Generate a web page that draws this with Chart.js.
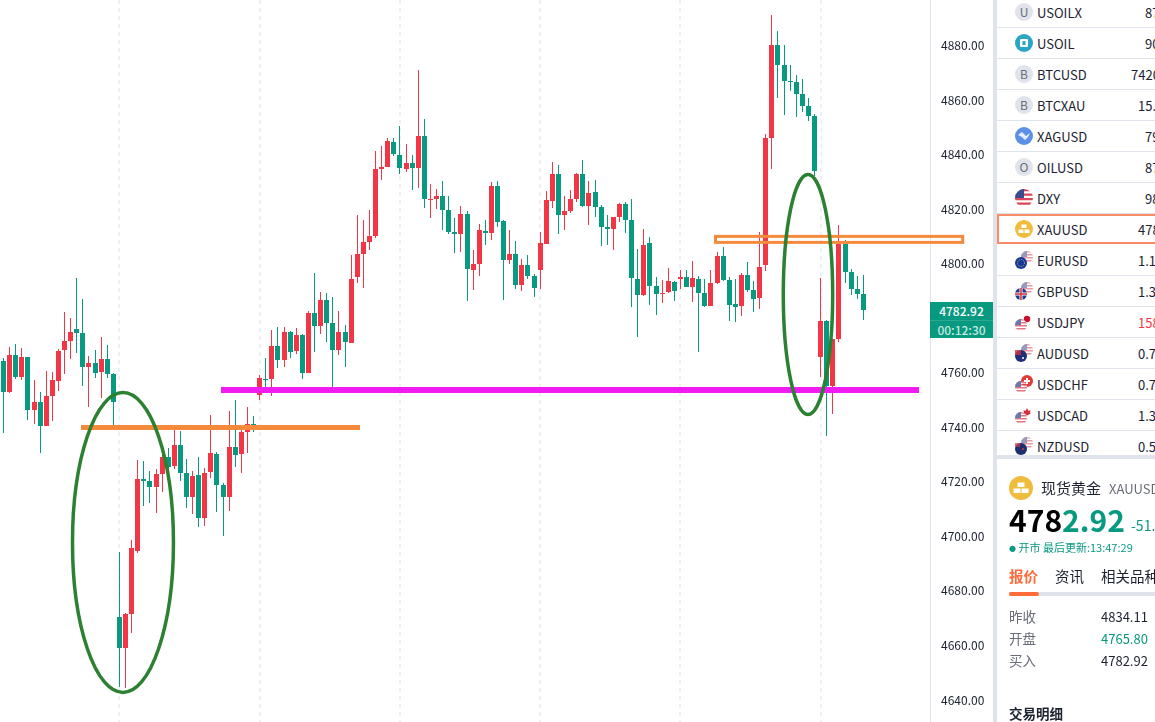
<!DOCTYPE html>
<html lang="zh">
<head>
<meta charset="utf-8">
<title>XAUUSD</title>
<script src="https://cdn.jsdelivr.net/npm/chart.js@4"></script>
<style>
html,body{margin:0;padding:0;background:#fff;width:1155px;height:722px;overflow:hidden;font-family:"Noto Sans CJK SC","Noto Sans",sans-serif;color:#1c2230}
#wrap{position:absolute;left:0;top:0;width:993px;height:722px}
#divider{position:absolute;left:993px;top:0;width:4px;height:722px;background:#E0E3EB}
#lastBox{position:absolute;left:930px;top:302px;width:63px;height:36px;background:#089981;color:#fff;text-align:center;font-size:12px;font-weight:500;z-index:3}
#lastBox div{height:18px;line-height:18px}
#lastBox .c{color:#c5e9df;border-top:1px solid #2aa892;height:17px;line-height:17px}
#list{position:absolute;left:997px;top:-3px;width:158px;height:458px;overflow:hidden}
.row{position:absolute;left:0;width:158px;height:31px;border-bottom:1px solid #E0E3EB;box-sizing:border-box;font-size:13px;line-height:31px}
.row.sel{border:2px solid #F98B66;left:0;width:170px;height:30px;}
.row .n{position:absolute;left:40px;top:0}
.row .v{position:absolute;top:0;white-space:nowrap}
.row svg{position:absolute;left:18px;top:6px}
#band{position:absolute;left:997px;top:455px;width:158px;height:4px;background:#E0E3EB}
.t{position:absolute;white-space:nowrap;line-height:1}
#panel{position:absolute;left:0;top:0;width:1155px;height:722px;overflow:hidden;pointer-events:none}
</style>
</head>
<body>
<div id="wrap"><canvas id="c" width="993" height="722"></canvas></div>
<div id="divider"></div>
<div id="lastBox"><div>4782.92</div><div class="c">00:12:30</div></div>
<div id="list"></div>
<div id="band"></div>
<div id="panel">
  <svg style="position:absolute;left:1009px;top:476px" width="24" height="24" viewBox="0 0 24 24"><circle cx="12" cy="12" r="12" fill="#F0BC3D"/><rect x="8.5" y="6.5" width="7" height="4.5" fill="#fff"/><rect x="4.5" y="12.5" width="7" height="4.5" fill="#fff"/><rect x="12.5" y="12.5" width="7" height="4.5" fill="#fff"/></svg>
  <div class="t" style="left:1041px;top:480px;font-size:15px;color:#1c2230">现货黄金</div>
  <div class="t" style="left:1109px;top:482px;font-size:13px;color:#6a6d78">XAUUSD</div>
  <div class="t" style="left:1009px;top:504px;font-size:30px;font-weight:700;color:#000">478<span style="color:#089981">2.92</span></div>
  <div class="t" style="left:1131px;top:518px;font-size:14px;color:#089981">-51.</div>
  <div class="t" style="left:1009px;top:542px;font-size:11px;color:#089981"><span style="font-size:7px;vertical-align:1px">●</span> 开市 最后更新:13:47:29</div>
  <div class="t" style="left:1009px;top:569px;font-size:14.5px;font-weight:700;color:#FF6B3B">报价</div>
  <div class="t" style="left:1055px;top:569px;font-size:14.5px;color:#1c2230">资讯</div>
  <div class="t" style="left:1101px;top:569px;font-size:14.5px;color:#1c2230">相关品种</div>
  <div style="position:absolute;left:1009px;top:592px;width:146px;height:4px;background:#E0E3EB"></div>
  <div style="position:absolute;left:1009px;top:592px;width:30px;height:4px;border-radius:2px;background:#FF6B3B"></div>
  <div class="t" style="left:1009px;top:610px;font-size:13.5px;color:#6a6d78">昨收</div>
  <div class="t" style="left:1101px;top:610px;font-size:13px;color:#1c2230">4834.11</div>
  <div class="t" style="left:1009px;top:632px;font-size:13.5px;color:#6a6d78">开盘</div>
  <div class="t" style="left:1101px;top:632px;font-size:13px;color:#089981">4765.80</div>
  <div class="t" style="left:1009px;top:654px;font-size:13.5px;color:#6a6d78">买入</div>
  <div class="t" style="left:1101px;top:654px;font-size:13px;color:#1c2230">4782.92</div>
  <div class="t" style="left:1009px;top:707px;font-size:13.5px;font-weight:700;color:#1c2230">交易明细</div>
</div>
<script>
const opens=[4764.3,4752.9,4766.5,4758.4,4765.8,4746.3,4749.3,4740.5,4751.5,4757.0,4768.3,4771.6,4776.0,4774.6,4762.1,4763.6,4760.3,4765.0,4759.5,
4670.4,4659.1,4671.5,4694.6,4721.0,4720.3,4718.1,4722.9,4729.1,4725.8,4733.5,4723.2,4714.4,4722.5,4706.7,4723.6,4730.2,4718.8,4714.4,4732.8,4730.2,4738.3,4741.2,
4752.0,4757.7,4757.7,4769.8,4764.7,4774.9,4768.0,4773.8,4759.9,4781.9,4777.1,4786.7,4778.2,4768.3,4774.9,4770.9,4795.1,4803.5,4807.9,4810.1,4834.7,4835.4,4844.6,4839.8,4834.7,4836.9,4835.1,4846.8,4823.3,4823.7,4824.8,4819.7,4811.6,4810.9,4818.2,4797.7,4799.9,4812.0,4811.2,4828.5,
4815.6,4801.3,4803.5,4792.2,4799.5,4795.5,4797.7,4807.2,4823.0,4832.9,4817.9,4819.3,4823.7,4832.9,4821.1,4826.3,4820.8,4813.4,4812.7,4817.1,4821.9,4816.0,4794.4,4788.5,4807.6,4791.8,4788.9,4789.6,4793.3,4794.4,4795.1,4791.4,4794.4,4789.2,4784.5,4792.9,4802.8,4794.0,
4785.2,4784.5,4795.8,4790.3,4787.4,4799.5,4846.1,4880.2,4872.8,4867.0,4866.6,4862.2,4857.8,4854.1,4765.8,4779.0,4755.1,4772.4,4807.2,4796.9,4790.7,4788.9];
const highs=[4765.3,4769.4,4770.5,4769.1,4765.8,4757.3,4752.9,4760.6,4760.3,4768.7,4782.3,4780.1,4794.7,4787.0,4766.1,4768.3,4773.1,4770.2,4759.9,
4694.3,4671.9,4698.7,4728.0,4727.6,4724.0,4724.7,4730.6,4732.4,4739.7,4738.6,4728.4,4724.0,4729.1,4725.1,4744.5,4730.9,4719.6,4746.0,4750.0,4740.1,4747.4,4744.1,
4759.2,4765.4,4775.7,4776.8,4776.8,4775.3,4776.4,4774.2,4782.6,4796.6,4789.6,4789.2,4787.8,4782.6,4777.5,4803.2,4817.8,4816.0,4819.7,4841.3,4843.1,4846.1,4846.1,4850.5,4843.9,4839.8,4871.0,4853.1,4829.2,4827.4,4830.3,4824.8,4816.7,4821.1,4819.3,4805.0,4814.5,4816.0,4829.9,4830.3,
4816.0,4812.3,4808.3,4801.7,4803.2,4796.2,4811.6,4826.7,4837.3,4836.2,4824.8,4827.0,4833.2,4838.0,4830.3,4830.7,4821.5,4817.9,4817.1,4822.3,4822.6,4823.7,4805.4,4812.7,4809.8,4795.1,4794.0,4798.4,4793.6,4797.7,4797.7,4801.0,4795.5,4794.4,4797.7,4804.3,4806.1,4795.1,
4794.4,4796.6,4800.6,4793.6,4811.6,4847.5,4891.2,4885.3,4880.2,4872.8,4869.2,4867.7,4860.7,4854.9,4794.7,4779.3,4772.4,4814.2,4808.7,4798.0,4795.5,4795.8];
const lows=[4738.0,4752.6,4757.7,4757.3,4742.7,4741.2,4730.6,4740.5,4742.3,4753.3,4759.5,4765.0,4767.2,4755.1,4747.4,4758.1,4750.7,4758.1,4740.8,
4644.8,4644.4,4664.6,4693.9,4711.1,4712.2,4708.6,4716.3,4724.3,4724.7,4720.3,4710.4,4708.2,4703.4,4703.8,4721.4,4708.9,4700.1,4709.3,4725.4,4723.2,4730.6,4738.3,
4750.0,4752.5,4751.5,4761.7,4762.1,4765.4,4766.9,4757.7,4759.9,4767.6,4774.2,4771.3,4754.3,4766.5,4762.1,4770.9,4792.9,4791.1,4805.0,4809.4,4830.7,4835.4,4839.5,4832.9,4833.6,4827.0,4827.7,4820.4,4816.7,4820.0,4812.3,4810.9,4803.9,4804.3,4786.3,4790.3,4795.5,4806.8,4808.7,4813.4,
4786.7,4799.9,4790.7,4790.0,4794.4,4787.8,4790.7,4807.2,4820.4,4810.9,4812.3,4818.6,4822.6,4820.8,4814.2,4817.1,4806.5,4806.8,4805.0,4815.3,4811.2,4784.1,4773.1,4788.1,4784.8,4781.2,4785.6,4789.2,4786.3,4790.7,4791.4,4785.9,4767.6,4784.1,4784.5,4792.5,4793.6,4779.0,
4778.6,4780.8,4789.6,4782.3,4783.4,4797.3,4834.7,4860.7,4854.5,4863.3,4853.8,4855.6,4852.3,4832.1,4758.4,4736.8,4744.9,4771.3,4792.9,4788.5,4787.0,4779.3];
const closes=[4752.9,4766.5,4758.4,4765.8,4746.3,4749.3,4740.5,4751.5,4757.3,4768.0,4771.6,4774.9,4774.6,4762.1,4763.6,4759.9,4765.0,4759.5,4749.3,
4659.1,4671.5,4695.7,4721.0,4720.3,4718.1,4722.9,4729.1,4725.4,4733.5,4723.2,4714.4,4722.1,4706.7,4723.2,4730.6,4718.8,4714.4,4732.8,4729.8,4738.3,4741.2,4740.5,
4758.1,4757.3,4769.8,4764.7,4774.9,4767.6,4773.8,4759.9,4781.9,4777.1,4786.7,4778.2,4768.3,4774.9,4771.3,4794.4,4803.5,4807.9,4810.1,4834.7,4835.4,4845.0,4840.2,4835.1,4836.9,4835.1,4846.8,4823.7,4823.7,4824.8,4819.7,4811.6,4810.9,4818.2,4798.0,4799.9,4812.3,4811.2,4828.5,4815.3,
4801.3,4803.5,4792.2,4799.5,4795.5,4791.1,4807.6,4823.3,4832.9,4817.9,4819.3,4823.7,4832.9,4821.1,4825.9,4820.8,4813.4,4812.7,4817.1,4821.9,4816.0,4794.7,4788.5,4806.8,4791.8,4788.9,4789.2,4793.6,4790.0,4795.1,4791.4,4794.7,4789.2,4784.5,4792.9,4802.8,4794.0,4784.8,
4784.1,4795.8,4790.3,4787.0,4798.8,4846.1,4880.2,4872.8,4867.0,4866.6,4862.2,4857.8,4854.1,4834.0,4779.0,4755.1,4772.4,4807.2,4796.9,4790.7,4788.9,4782.92];
const xTickIndexes=[19,42,65,88,111,134];
const yTicks=[4640,4660,4680,4700,4720,4740,4760,4780,4800,4820,4840,4860,4880];

// hand-drawn overlays, in index/price units
const ovHLines=[{from:12.7,to:58.45,price:4739.9,color:'#F58A3C',width:5},{from:35.66,to:150.13,price:4753.7,color:'#F21BF2',width:6}];
const ovBox={from:116.75,to:157.3,top:4810.0,bottom:4807.8,color:'#F58A3C',width:3};
const ovEllipses=[{i:19.58,price:4697.75,ri:8.28,rp:55.0},{i:131.92,price:4788.7,ri:4.05,rp:44.0}];

const UP='#F23645',DOWN='#089981';
const colors=opens.map((o,i)=>closes[i]>=o?UP:DOWN);
const wickData=opens.map((_,i)=>({x:i,y:[lows[i],highs[i]]}));
const bodyData=opens.map((o,i)=>({x:i,y:[o,closes[i]]}));

const snapPlugin={id:'snap',beforeDatasetsDraw(chart){
  chart.getSortedVisibleDatasetMetas().forEach(meta=>meta.data.forEach(el=>{
    el.x=Math.floor(el.x)+0.5;
    const a=Math.round(Math.min(el.y,el.base));
    const b=Math.max(a+1,Math.round(Math.max(el.y,el.base)));
    el.y=a;el.base=b;
  }));
}};
const overlayPlugin={id:'overlay',afterDraw(chart){
  const {ctx,scales:{x,y}}=chart;
  ctx.save();
  ctx.lineCap='butt';
  ovHLines.forEach(l=>{
    ctx.strokeStyle=l.color;ctx.lineWidth=l.width;ctx.beginPath();
    const py=y.getPixelForValue(l.price);
    ctx.moveTo(x.getPixelForValue(l.from),py);ctx.lineTo(x.getPixelForValue(l.to),py);ctx.stroke();
  });
  ctx.strokeStyle=ovBox.color;ctx.lineWidth=ovBox.width;
  const bx=x.getPixelForValue(ovBox.from),by=y.getPixelForValue(ovBox.top);
  ctx.strokeRect(bx,by,x.getPixelForValue(ovBox.to)-bx,y.getPixelForValue(ovBox.bottom)-by);
  ctx.strokeStyle='#2B8131';ctx.lineWidth=3.5;
  ovEllipses.forEach(e=>{
    const cx=x.getPixelForValue(e.i),cy=y.getPixelForValue(e.price);
    ctx.beginPath();
    ctx.ellipse(cx,cy,Math.abs(x.getPixelForValue(e.i+e.ri)-cx),Math.abs(y.getPixelForValue(e.price+e.rp)-cy),0,0,Math.PI*2);
    ctx.stroke();
  });
  ctx.restore();
}};

new Chart(document.getElementById('c'),{
  type:'bar',
  data:{datasets:[
    {label:'wick',data:wickData,backgroundColor:colors,barThickness:1,grouped:false,inflateAmount:0,borderWidth:0,order:2},
    {label:'body',data:bodyData,backgroundColor:colors,barThickness:5,grouped:false,inflateAmount:0,borderWidth:0,order:1}
  ]},
  options:{
    responsive:false,animation:false,
    layout:{padding:0},
    plugins:{legend:{display:false},tooltip:{enabled:false}},
    scales:{
      x:{type:'linear',min:-0.587,max:151.93,offset:false,
        grid:{offset:false,color:'#EFF0F5',lineWidth:2,drawTicks:false},
        border:{display:false,dash:[4,4]},
        ticks:{display:false},
        afterBuildTicks:s=>{s.ticks=xTickIndexes.map(v=>({value:v}));},
        afterFit:s=>{s.height=0;s.paddingLeft=0;s.paddingRight=0;s.paddingTop=0;s.paddingBottom=0;}
      },
      y:{type:'linear',position:'right',min:4631.93,max:4896.68,
        grid:{drawOnChartArea:false,drawTicks:false},
        border:{display:true,color:'#E0E3EB',width:1},
        ticks:{padding:11,crossAlign:'near',color:'#1c2230',font:{family:'"Noto Sans CJK SC"',size:12},
          callback:v=>Number(v).toFixed(2)},
        afterBuildTicks:s=>{s.ticks=yTicks.map(v=>({value:v}));},
        afterFit:s=>{s.width=63;s.paddingTop=0;s.paddingBottom=0;s.paddingLeft=0;s.paddingRight=0;}
      }
    }
  },
  plugins:[snapPlugin,overlayPlugin]
});

// watch list (sidebar)
const listNames=['USOILX','USOIL','BTCUSD','BTCXAU','XAGUSD','OILUSD','DXY','XAUUSD','EURUSD','GBPUSD','USDJPY','AUDUSD','USDCHF','USDCAD','NZDUSD'];
const listValues=['87','90','7420','15.','79','87','98','478','1.1','1.3','158','0.7','0.7','1.3','0.5'];
const listValueLeft=[148,148,134,141,148,148,148,141,141,141,141,141,141,141,141];
const usFlag=(cx,cy,r,id)=>`<clipPath id="${id}"><circle cx="${cx}" cy="${cy}" r="${r}"/></clipPath><g clip-path="url(#${id})"><rect x="${cx-r}" y="${cy-r}" width="${2*r}" height="${2*r}" fill="#fff"/>`+
 [0,1,2,3].map(k=>`<rect x="${cx-r}" y="${cy-r+k*r/2}" width="${2*r}" height="${r/4}" fill="#D9465A"/>`).join('')+`<rect x="${cx-r}" y="${cy-r}" width="${r}" height="${r}" fill="#3C4A8E"/></g>`;
const pair=(front,back)=>back+front;
const icons={
 USOILX:`<circle cx="9" cy="9" r="9" fill="#E0E3EB"/><text x="9" y="13.5" font-size="12" text-anchor="middle" fill="#6a6d78">U</text>`,
 USOIL:`<circle cx="9" cy="9" r="9" fill="#2AA5C6"/><rect x="5" y="5" width="8" height="8" rx="1" fill="#fff"/><rect x="7.5" y="7" width="3" height="4" fill="#2AA5C6"/>`,
 BTCUSD:`<circle cx="9" cy="9" r="9" fill="#E0E3EB"/><text x="9" y="13.5" font-size="12" text-anchor="middle" fill="#6a6d78">B</text>`,
 BTCXAU:`<circle cx="9" cy="9" r="9" fill="#E0E3EB"/><text x="9" y="13.5" font-size="12" text-anchor="middle" fill="#6a6d78">B</text>`,
 XAGUSD:`<circle cx="9" cy="9" r="9" fill="#5E8FE6"/><path d="M3 8l4-3 4 4 4-3-2 4-3 3-3-3z" fill="#fff" opacity=".85"/>`,
 OILUSD:`<circle cx="9" cy="9" r="9" fill="#E0E3EB"/><text x="9" y="13.5" font-size="12" text-anchor="middle" fill="#6a6d78">O</text>`,
 DXY:usFlag(9,9,9,'dxy'),
 XAUUSD:`<circle cx="9" cy="9" r="9" fill="#F0BC3D"/><rect x="6.5" y="4.5" width="5" height="3.5" fill="#fff"/><rect x="3.5" y="9.5" width="5" height="3.5" fill="#fff"/><rect x="9.5" y="9.5" width="5" height="3.5" fill="#fff"/>`,
 EURUSD:pair(`<circle cx="6" cy="12" r="6" fill="#14399A"/><circle cx="6" cy="12" r="3.5" fill="none" stroke="#F2C94C" stroke-width=".8" stroke-dasharray="1 1"/>`,`<g opacity=".55">${usFlag(12,6,6,'a1')}</g>`),
 GBPUSD:pair(`<circle cx="6" cy="12" r="6" fill="#1F3A8A"/><path d="M0 12h12M6 6v12" stroke="#fff" stroke-width="3"/><path d="M0 12h12M6 6v12" stroke="#D22F3C" stroke-width="1.5"/>`,`<g opacity=".55">${usFlag(12,6,6,'a2')}</g>`),
 USDJPY:pair(`<g opacity=".75">${usFlag(6,12,6,'a3')}</g>`,`<circle cx="12" cy="6" r="6" fill="#fff"/><circle cx="12" cy="6" r="3.2" fill="#C8102E"/>`),
 AUDUSD:pair(`<circle cx="6" cy="12" r="6" fill="#1F2F7A"/><rect x="0" y="6" width="6" height="5" fill="#D22F3C" opacity=".8"/><circle cx="8" cy="14" r="1" fill="#fff"/>`,`<g opacity=".55">${usFlag(12,6,6,'a4')}</g>`),
 USDCHF:pair(`<g opacity=".75">${usFlag(6,12,6,'a5')}</g>`,`<circle cx="12" cy="6" r="6" fill="#E53935"/><path d="M9 6h6M12 3v6" stroke="#fff" stroke-width="2"/>`),
 USDCAD:pair(`<g opacity=".75">${usFlag(6,12,6,'a6')}</g>`,`<circle cx="12" cy="6" r="6" fill="#fff"/><path d="M12 2l1.5 3 2-1-.5 3 1 .5-4 2-4-2 1-.5-.5-3 2 1z" fill="#D22F3C"/>`),
 NZDUSD:pair(`<circle cx="6" cy="12" r="6" fill="#1F2F6E"/><circle cx="8" cy="12" r=".9" fill="#E53935"/><rect x="0" y="6" width="5" height="4" fill="#C53A48" opacity=".7"/>`,`<g opacity=".55">${usFlag(12,6,6,'a7')}</g>`)
};
const list=document.getElementById('list');
listNames.forEach((n,i)=>{
  const r=document.createElement('div');
  r.className='row'+(n==='XAUUSD'?' sel':'');
  const top=i*31;
  r.style.top=top+'px';
  const red=n==='USDJPY'?'color:#F23645;':'';
  const off=n==='XAUUSD'?2:0;
  r.innerHTML=`<svg width="18" height="18" viewBox="0 0 18 18" style="left:${18-off}px;top:${6-off}px">${icons[n]}</svg><span class="n" style="left:${40-off}px;top:${-off}px">${n}</span><span class="v" style="left:${listValueLeft[i]-off}px;top:${-off}px;${red}">${listValues[i]}</span>`;
  list.appendChild(r);
});
</script>
</body>
</html>
